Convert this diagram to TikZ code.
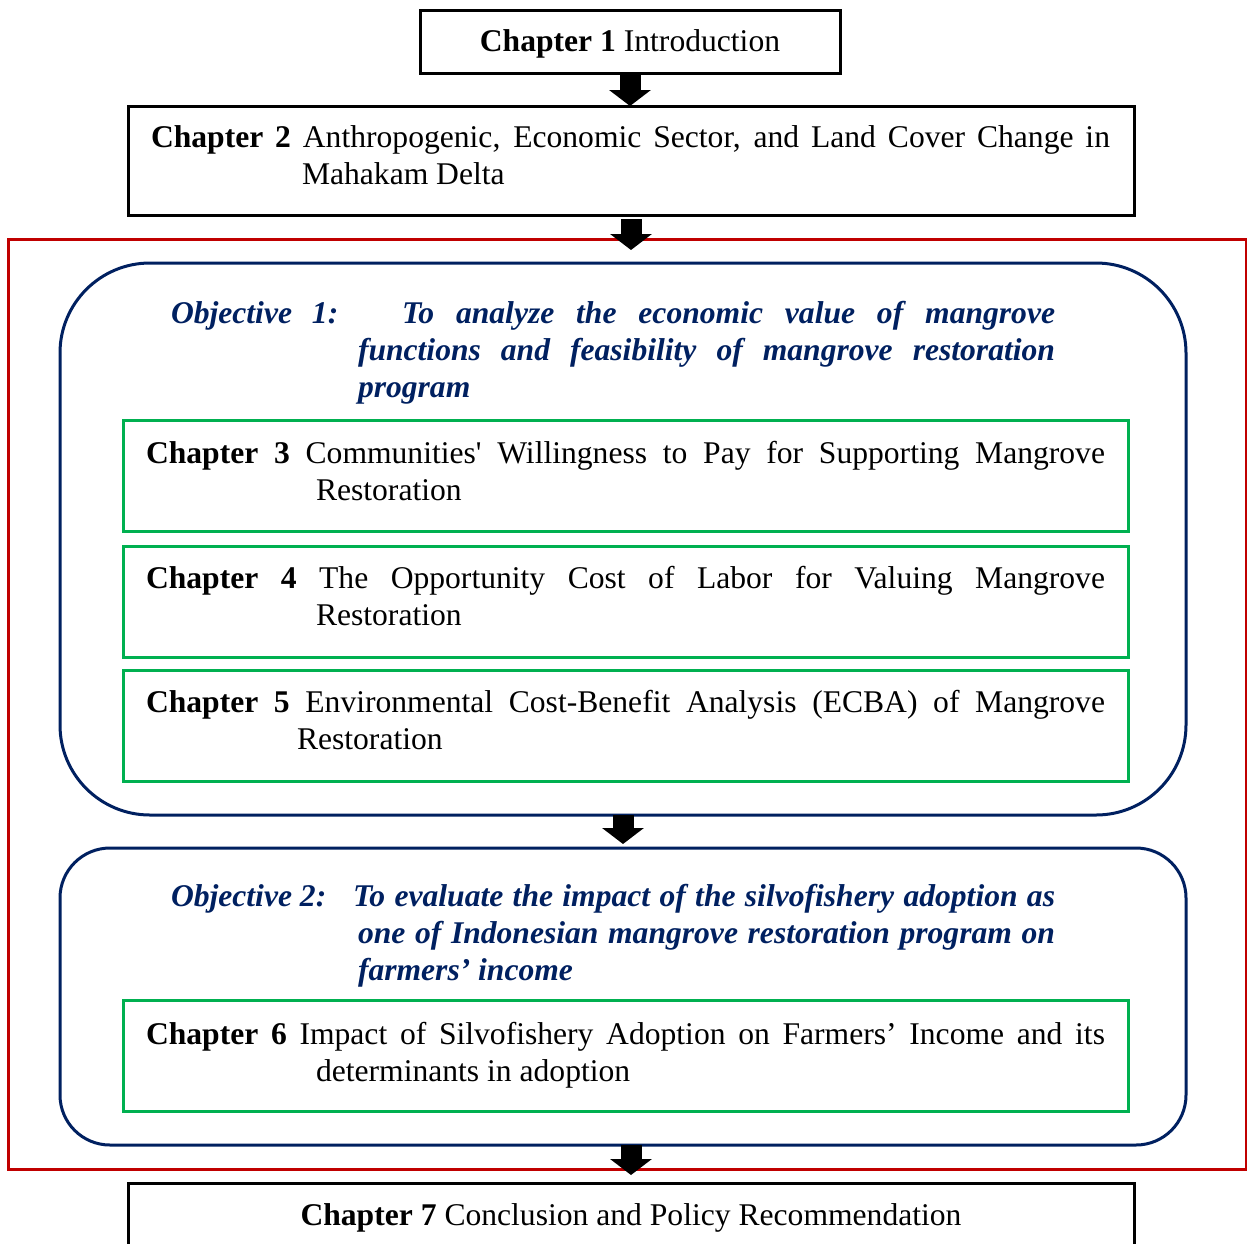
\documentclass[tikz,border=0pt]{standalone}
\usepackage{fontspec}
\setmainfont{Liberation Serif}
\usetikzlibrary{arrows.meta}
\definecolor{objblue}{RGB}{0,32,96}
\definecolor{frred}{RGB}{192,0,0}
\definecolor{chgreen}{RGB}{0,176,80}
\begin{document}
\begin{tikzpicture}[x=0.5pt,y=-0.5pt,font=\fontsize{15.8}{18.5}\selectfont]
	\tikzset{
		fr/.style={draw,line width=1.5pt,inner sep=0pt,outer sep=0pt,rectangle},
		chap/.style={fr,draw=black},
		sub/.style={fr,draw=chgreen,minimum width=502.5pt,minimum height=55.5pt},
		obj/.style={fr,draw=objblue,minimum width=563pt},
		t/.style={inner sep=0pt,outer sep=0pt,anchor=base west},
		blk/.style={line width=10.5pt,-{Triangle[width=20.5pt,length=8pt]}}}
	\useasboundingbox(0,0)rectangle(1247,1243);
	% frames
	\node[chap,minimum width=210pt,minimum height=31.5pt](ch1)at(630,41.5){};
	\node[chap,minimum width=503pt,minimum height=54.5pt](ch2)at(631,160.5){};
	\node[fr,draw=frred,minimum width=619pt,minimum height=465pt](red)at(627,704){};
	\node[obj,minimum height=276pt,rounded corners=45pt](obj1)at(623,539){};
	\node[sub](ch3)at(625.5,476){};
	\node[sub](ch4)at(625.5,601.5){};
	\node[sub](ch5)at(625.5,725.5){};
	\node[obj,minimum height=148.5pt,rounded corners=25pt](obj2)at(623,996.5){};
	\node[sub](ch6)at(625.5,1056){};
	\node[chap,minimum width=503pt,minimum height=58.5pt](ch7)at(631,1241.5){};
	% texts
	\node[inner sep=0pt,anchor=base](ch1t)at(630,51){\textbf{Chapter 1} Introduction};
	\node[t](ch2t)at(151,147){\parbox[t]{479.5pt}{\hangindent=75.5pt\hangafter=1
		\textbf{Chapter 2} Anthropogenic, Economic Sector, and Land Cover Change in\linebreak Mahakam Delta}};
	\node[t,text=objblue](obj1t)at(171,323){\parbox[t]{442pt}{\bfseries\itshape\hangindent=93.5pt\hangafter=1
		\makebox[115.5pt][l]{Objective\hspace{6pt} 1:}To analyze the economic value of mangrove\linebreak functions and feasibility of mangrove restoration\linebreak program}};
	\node[t](ch3t)at(146,463){\parbox[t]{479.5pt}{\hangindent=85pt\hangafter=1
		\textbf{Chapter 3} Communities\textquotesingle\ Willingness to Pay for Supporting Mangrove\linebreak Restoration}};
	\node[t](ch4t)at(146,588){\parbox[t]{479.5pt}{\hangindent=85pt\hangafter=1
		\textbf{Chapter 4} The Opportunity Cost of Labor for Valuing Mangrove\linebreak Restoration}};
	\node[t](ch5t)at(146,712){\parbox[t]{479.5pt}{\hangindent=75.5pt\hangafter=1
		\textbf{Chapter 5} Environmental Cost-Benefit Analysis (ECBA) of Mangrove\linebreak Restoration}};
	\node[t,text=objblue](obj2t)at(171,906){\parbox[t]{442pt}{\bfseries\itshape\hangindent=93.5pt\hangafter=1
		\makebox[91pt][l]{Objective 2:}To evaluate the impact of the silvofishery adoption as\linebreak one of Indonesian mangrove restoration program on\linebreak farmers’ income}};
	\node[t](ch6t)at(146,1044){\parbox[t]{479.5pt}{\hangindent=85pt\hangafter=1
		\textbf{Chapter 6} Impact of Silvofishery Adoption on Farmers’ Income and its\linebreak determinants in adoption}};
	\node[inner sep=0pt,anchor=base](ch7t)at(631,1225){\textbf{Chapter 7} Conclusion and Policy Recommendation};
	% arrows
	\path(ch2.south)++(0,35)coordinate(t2);
	\draw[blk](ch1.south)--(ch1.south|-ch2.north);
	\draw[blk,shorten <=2pt](ch2.south)--(t2);
	\draw[blk,shorten >=2pt](obj1.south)--(obj2.north);
	\draw[blk,shorten >=4pt](ch7.north|-obj2.south)--(ch7.north);
\end{tikzpicture}
\end{document}
